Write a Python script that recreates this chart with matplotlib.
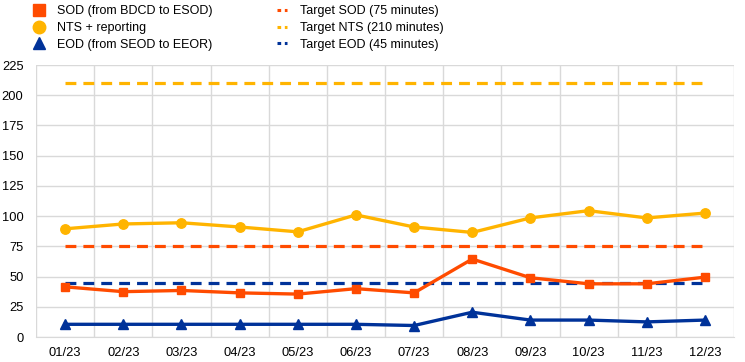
import matplotlib.pyplot as plt
from matplotlib.lines import Line2D

plt.rcParams['font.family'] = ['Liberation Sans', 'DejaVu Sans']

months = ['01/23', '02/23', '03/23', '04/23', '05/23', '06/23',
          '07/23', '08/23', '09/23', '10/23', '11/23', '12/23']
sod = [41.5, 37.5, 38.5, 36.5, 35.5, 40, 36.5, 64.5, 49, 44, 44, 49.5]
nts = [89.5, 93.5, 94.5, 91, 87, 101, 91, 86.5, 98.5, 104.5, 98.5, 102.5]
eod = [10.5, 10.5, 10.5, 10.5, 10.5, 10.5, 9.5, 20.5, 14, 14, 12.5, 14]
target_sod = 75
target_nts = 210
target_eod = 45

c_sod = '#FF4B00'
c_nts = '#FFB400'
c_eod = '#003299'

fig = plt.figure(figsize=(7.45, 3.62), dpi=100)
ax = fig.add_axes([36/745, 25/362, 698/745, 272/362])

x = list(range(len(months)))
dash = (0, (3.4, 2.2))
ax.plot(x, [target_sod]*len(x), color=c_sod, lw=2.3, linestyle=dash, zorder=2)
ax.plot(x, [target_nts]*len(x), color=c_nts, lw=2.3, linestyle=dash, zorder=2)
ax.plot(x, [target_eod]*len(x), color=c_eod, lw=2.3, linestyle=dash, zorder=2)
ax.plot(x, nts, color=c_nts, lw=2.4, marker='o', ms=6.8, zorder=3)
ax.plot(x, sod, color=c_sod, lw=2.4, marker='s', ms=5.2, zorder=3)
ax.plot(x, eod, color=c_eod, lw=2.4, marker='^', ms=6.5, zorder=3)

ax.set_xlim(-0.5, len(x) - 0.5)
ax.set_ylim(0, 225)
ax.set_yticks(range(0, 226, 25))
ax.set_xticks(x)
ax.set_xticklabels(months)
ax.set_xticks([i + 0.5 for i in range(-1, len(x))], minor=True)
ax.grid(True, which='minor', axis='x', color='#d9d9d9', lw=1)
ax.grid(True, which='major', axis='y', color='#d9d9d9', lw=1)
ax.set_axisbelow(True)
for s in ['top', 'right', 'left']:
    ax.spines[s].set_visible(False)
ax.spines['bottom'].set_color('#d9d9d9')
ax.tick_params(which='both', length=0, labelsize=9.3, colors='#000000')
ax.tick_params(axis='x', pad=7)
ax.tick_params(axis='y', pad=9)

handles = [
    Line2D([], [], color=c_sod, marker='s', ms=8, lw=0),
    Line2D([], [], color=c_nts, marker='o', ms=9, lw=0),
    Line2D([], [], color=c_eod, marker='^', ms=9, lw=0),
    Line2D([], [], color=c_sod, lw=2.2, linestyle=(0, (1.2, 1.2))),
    Line2D([], [], color=c_nts, lw=2.2, linestyle=(0, (1.2, 1.2))),
    Line2D([], [], color=c_eod, lw=2.2, linestyle=(0, (1.2, 1.2))),
]
labels = ['SOD (from BDCD to ESOD)', 'NTS + reporting', 'EOD (from SEOD to EEOR)',
          'Target SOD (75 minutes)', 'Target NTS (210 minutes)', 'Target EOD (45 minutes)']
fig.legend(handles, labels, ncol=2, loc='upper left', bbox_to_anchor=(33/745, 1 - 4/362),
           frameon=False, fontsize=9, handlelength=0.8, handletextpad=1.0,
           columnspacing=5.2, labelspacing=0.38, borderpad=0.0, borderaxespad=0.1)

fig.savefig('out.png', dpi=100)
